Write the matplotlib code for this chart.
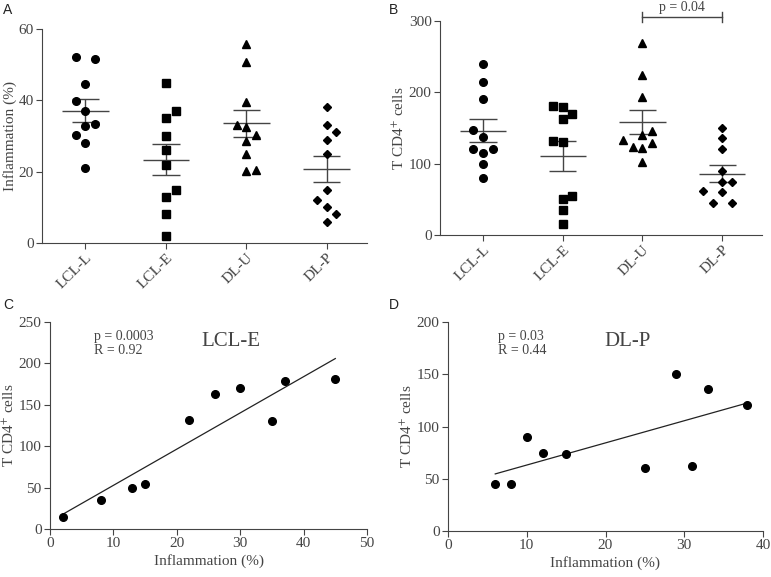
import numpy as np
import matplotlib.pyplot as plt

groups = ['LCL-L', 'LCL-E', 'DL-U', 'DL-P']
markers = ['o', 's', '^', 'D']

# Panel A: inflammation (%) per group
infl_lcl_l = [52.2, 51.5, 44.6, 39.8, 37.1, 32.7, 33.4, 30.4, 28.1, 20.9]
infl_lcl_e = [45, 37, 35, 30, 26, 22, 15, 13, 8, 2]
infl_dl_u = [55.7, 50.8, 39.5, 33.1, 32.6, 30.3, 28.6, 25.0, 20.1, 20.6]
infl_dl_p = [38, 33, 31, 29, 25, 15, 12, 10, 8, 6]

# Panel B: T CD4+ cells per group
cd4_lcl_l = [240, 215, 190, 147, 137, 120, 120, 115, 100, 80]
cd4_lcl_e = [181, 179, 170, 163, 132, 130, 54, 50, 35, 15]
cd4_dl_u = [269, 225, 194, 133, 140, 146, 123, 122, 129, 103]
cd4_dl_p = [150, 136, 121, 90, 75, 74, 62, 60, 45, 45]

# horizontal jitter as drawn (points sharing a value are spread)
jit_a = [[-1, 1, 0, -1, 0, 0, 1, -1, 0, 0],
         [0, 1, 0, 0, 0, 0, 1, 0, 0, 0],
         [0, 0, 0, -1, 0, 1, 0, 0, 0, 1],
         [0, 0, 1, 0, 0, 0, -1, 0, 1, 0]]
jit_b = [[0, 0, 0, -1, 0, -1, 1, 0, 0, 0],
         [-1, 0, 1, 0, -1, 0, 1, 0, 0, 0],
         [0, 0, 0, -2, 0, 1, -1, 0, 1, 0],
         [0, 0, 0, 0, 0, 1, -2, 0, -1, 1]]

# Panels C / D: correlation data
c_x = [2, 8, 13, 15, 22, 26, 30, 35, 37, 45]
c_y = [15, 35, 50, 54, 132, 163, 170, 130, 179, 181]
d_x = [38, 33, 31, 29, 25, 15, 12, 10, 8, 6]
d_y = [121, 136, 62, 150, 60, 74, 75, 90, 45, 45]

serif = 'Liberation Serif'
gray = '#444444'
plt.rcParams['font.family'] = serif
plt.rcParams['mathtext.fontset'] = 'stix'
plt.rcParams['axes.edgecolor'] = gray
plt.rcParams['xtick.color'] = gray
plt.rcParams['ytick.color'] = gray
plt.rcParams['axes.labelcolor'] = gray
plt.rcParams['xtick.labelcolor'] = gray
plt.rcParams['ytick.labelcolor'] = gray

fig = plt.figure(figsize=(7.71, 5.77), dpi=100)
W, H = 771, 577


def add_ax(l, t, r, b):
    return fig.add_axes([l / W, 1 - b / H, (r - l) / W, (b - t) / H])


def style(ax):
    for s in ['top', 'right']:
        ax.spines[s].set_visible(False)
    ax.tick_params(direction='out', length=4, labelsize=11, pad=2)


def dot_plot(ax, data, jit, ylim, yticks, ylabel):
    for i, (vals, jj) in enumerate(zip(data, jit)):
        xs = i + 0.12 * np.array(jj)
        ax.plot(xs, vals, markers[i], color='black',
                ms=5.5 if markers[i] != 'D' else 4.5, ls='none', zorder=3)
        m = np.mean(vals)
        sem = np.std(vals, ddof=1) / np.sqrt(len(vals))
        ax.hlines(m, i - 0.29, i + 0.29, color=gray, lw=1)
        ax.hlines([m - sem, m + sem], i - 0.17, i + 0.17, color=gray, lw=1)
        ax.vlines(i, m - sem, m + sem, color=gray, lw=1)
    ax.set_xlim(-0.54, 3.5)
    ax.set_ylim(*ylim)
    ax.set_yticks(yticks)
    ax.set_xticks(range(4))
    ax.set_xticklabels(groups, rotation=45, ha='right', rotation_mode='anchor')
    ax.set_ylabel(ylabel, fontsize=11, labelpad=1)
    style(ax)


axA = add_ax(42, 29, 367, 243)
dot_plot(axA, [infl_lcl_l, infl_lcl_e, infl_dl_u, infl_dl_p], jit_a,
         (0, 60), [0, 20, 40, 60], 'Inflammation (%)')

axB = add_ax(440, 21, 762, 235)
dot_plot(axB, [cd4_lcl_l, cd4_lcl_e, cd4_dl_u, cd4_dl_p], jit_b,
         (0, 300), [0, 100, 200, 300], 'T CD4$^{+}$ cells')
axB.plot([2, 3], [306, 306], color=gray, lw=1, clip_on=False)
axB.plot([2, 2], [299, 312], color=gray, lw=1, clip_on=False)
axB.plot([3, 3], [299, 312], color=gray, lw=1, clip_on=False)
axB.text(2.5, 310, 'p = 0.04', ha='center', va='bottom', fontsize=10, color=gray)


def corr_plot(ax, x, y, xlim, xticks, ylim, yticks, p, r, title, tx):
    ax.plot(x, y, 'o', color='black', ms=5.5, zorder=3)
    k, b0 = np.polyfit(x, y, 1)
    xs = np.array([min(x), max(x)])
    ax.plot(xs, k * xs + b0, color='#222222', lw=0.9)
    ax.set_xlim(*xlim)
    ax.set_ylim(*ylim)
    ax.set_xticks(xticks)
    ax.set_yticks(yticks)
    ax.set_xlabel('Inflammation (%)', fontsize=11, labelpad=3)
    ax.set_ylabel('T CD4$^{+}$ cells', fontsize=11, labelpad=1)
    ax.text(tx, 0.96, 'p = ' + p + '\nR = ' + r, transform=ax.transAxes,
            ha='left', va='top', fontsize=10, color=gray, linespacing=1.1)
    ax.text(0.57, 0.95, title, transform=ax.transAxes, ha='center', va='top',
            fontsize=15, color=gray)
    style(ax)


axC = add_ax(50, 322, 367, 529)
corr_plot(axC, c_x, c_y, (0, 50), range(0, 51, 10), (0, 250), range(0, 251, 50),
          '0.0003', '0.92', 'LCL-E', 0.14)

axD = add_ax(448, 322, 763, 531)
corr_plot(axD, d_x, d_y, (0, 40), range(0, 41, 10), (0, 200), range(0, 201, 50),
          '0.03', '0.44', 'DL-P', 0.16)

for lab, x, y in [('A', 3, 3), ('B', 389, 3), ('C', 3, 298), ('D', 389, 298)]:
    fig.text(x / W, 1 - y / H, lab, fontsize=10, family='Liberation Sans',
             ha='left', va='top', color='#222222')

fig.savefig('out.png', dpi=100)
